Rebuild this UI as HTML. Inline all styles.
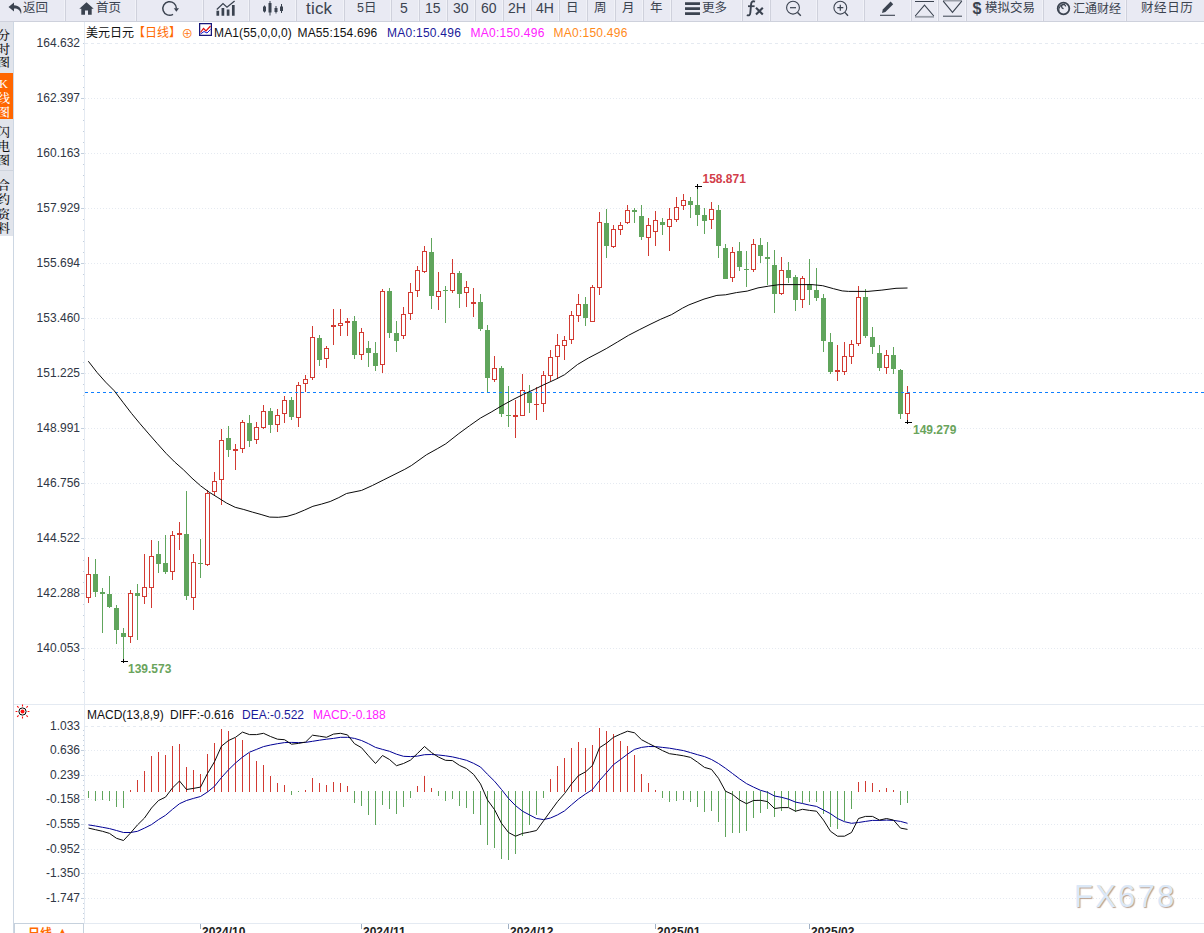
<!DOCTYPE html>
<html lang="zh-CN"><head><meta charset="utf-8"><title>美元日元 日线</title>
<style>
html,body{margin:0;padding:0;background:#fff;}
body{width:1204px;height:933px;position:relative;overflow:hidden;font-family:"Liberation Sans","Noto Sans CJK SC",sans-serif;}
#tb{position:absolute;left:0;top:0;width:1204px;height:21px;background:#e9eaf3;border-bottom:1px solid #ced1dc;overflow:hidden}
#tb .sp{position:absolute;top:0;width:1px;height:21px;background:#f1f2f8;border-right:1px solid #cfd1dc}
#tb .tt{position:absolute;top:0;line-height:17px;color:#3b4350;white-space:nowrap}
#tb .ic{position:absolute}
#sb{position:absolute;left:0;top:22px;width:13px;height:214px;background:#e1e4eb;overflow:hidden;font-family:"Liberation Serif","Noto Serif CJK SC",serif;font-size:12.5px;font-weight:500;line-height:13.4px;color:#111}
#sb div{position:absolute;left:-2.5px;width:12px;text-align:center;word-break:break-all}
#sb .on{background:#ff6600;color:#fff;left:0;width:13px;}
#sb .on span{display:block;margin-left:-2.5px;width:12px;text-align:center}
#lg{position:absolute;left:86px;top:25px;font-size:12px;line-height:16px;color:#111;white-space:nowrap}
#lg span{position:absolute;top:0}
#ml{position:absolute;left:87px;top:706.8px;font-size:12px;line-height:16px;color:#111;white-space:nowrap}
#ml span{position:absolute;top:0}
svg text.ax{font:12px "Liberation Sans",sans-serif;fill:#2f3644}
svg text.dt{font:bold 12px "Liberation Sans",sans-serif;fill:#222}
svg text.hl{font:bold 12px "Liberation Sans",sans-serif}
#wm{position:absolute;left:1074px;top:879px;font:31px "Liberation Sans",sans-serif;letter-spacing:2.2px;color:#dbe8f7;text-shadow:1px 1px 1px #b9a090}
#pd{position:absolute;left:14px;top:923px;width:70px;height:12px;border:1px solid #c6d1dd;box-sizing:border-box;color:#ff6a00;font-size:12px;font-weight:bold;line-height:19px;overflow:hidden;background:#fff}
#pd span{position:absolute;top:0.5px}
</style></head><body>
<svg id="ch" width="1204" height="933" viewBox="0 0 1204 933" style="position:absolute;left:0;top:0">
<line x1="85" x2="1204" y1="43.5" y2="43.5" stroke="#e5eaf1" stroke-width="1" stroke-dasharray="3 3"/>
<line x1="85" x2="1204" y1="98.5" y2="98.5" stroke="#e5eaf1" stroke-width="1" stroke-dasharray="1 2"/>
<line x1="85" x2="1204" y1="153.5" y2="153.5" stroke="#e5eaf1" stroke-width="1" stroke-dasharray="1 2"/>
<line x1="85" x2="1204" y1="208.5" y2="208.5" stroke="#e5eaf1" stroke-width="1" stroke-dasharray="1 2"/>
<line x1="85" x2="1204" y1="263.5" y2="263.5" stroke="#e5eaf1" stroke-width="1" stroke-dasharray="1 2"/>
<line x1="85" x2="1204" y1="318.5" y2="318.5" stroke="#e5eaf1" stroke-width="1" stroke-dasharray="1 2"/>
<line x1="85" x2="1204" y1="373.5" y2="373.5" stroke="#e5eaf1" stroke-width="1" stroke-dasharray="1 2"/>
<line x1="85" x2="1204" y1="428.5" y2="428.5" stroke="#e5eaf1" stroke-width="1" stroke-dasharray="1 2"/>
<line x1="85" x2="1204" y1="483.5" y2="483.5" stroke="#e5eaf1" stroke-width="1" stroke-dasharray="1 2"/>
<line x1="85" x2="1204" y1="538.5" y2="538.5" stroke="#e5eaf1" stroke-width="1" stroke-dasharray="1 2"/>
<line x1="85" x2="1204" y1="593.5" y2="593.5" stroke="#e5eaf1" stroke-width="1" stroke-dasharray="1 2"/>
<line x1="85" x2="1204" y1="648.5" y2="648.5" stroke="#e5eaf1" stroke-width="1" stroke-dasharray="1 2"/>
<line x1="85" x2="1204" y1="726.5" y2="726.5" stroke="#e5eaf1" stroke-width="1" stroke-dasharray="3 3"/>
<line x1="85" x2="1204" y1="750.5" y2="750.5" stroke="#e5eaf1" stroke-width="1" stroke-dasharray="1 2"/>
<line x1="85" x2="1204" y1="775.5" y2="775.5" stroke="#e5eaf1" stroke-width="1" stroke-dasharray="1 2"/>
<line x1="85" x2="1204" y1="799.5" y2="799.5" stroke="#e5eaf1" stroke-width="1" stroke-dasharray="1 2"/>
<line x1="85" x2="1204" y1="824.5" y2="824.5" stroke="#e5eaf1" stroke-width="1" stroke-dasharray="1 2"/>
<line x1="85" x2="1204" y1="849.5" y2="849.5" stroke="#e5eaf1" stroke-width="1" stroke-dasharray="1 2"/>
<line x1="85" x2="1204" y1="873.5" y2="873.5" stroke="#e5eaf1" stroke-width="1" stroke-dasharray="1 2"/>
<line x1="85" x2="1204" y1="898.5" y2="898.5" stroke="#e5eaf1" stroke-width="1" stroke-dasharray="1 2"/>
<rect x="13" y="22" width="1" height="911" fill="#cdd7e3"/>
<rect x="84" y="22" width="1" height="901" fill="#e4eaf2"/>
<rect x="14" y="704" width="1190" height="1" fill="#e4eaf2"/>
<rect x="14" y="923" width="1190" height="1" fill="#e4eaf2"/>
<path d="M83 43.5h1 M83 54.5h1 M83 65.5h1 M83 76.5h1 M83 87.5h1 M81 98.5h3 M83 109.5h1 M83 120.5h1 M83 131.5h1 M83 142.5h1 M81 153.5h3 M83 164.5h1 M83 175.5h1 M83 186.5h1 M83 197.5h1 M81 208.5h3 M83 219.5h1 M83 230.5h1 M83 241.5h1 M83 252.5h1 M81 263.5h3 M83 274.5h1 M83 285.5h1 M83 296.5h1 M83 307.5h1 M81 318.5h3 M83 329.5h1 M83 340.5h1 M83 351.5h1 M83 362.5h1 M81 373.5h3 M83 384.5h1 M83 395.5h1 M83 406.5h1 M83 417.5h1 M81 428.5h3 M83 439.5h1 M83 450.5h1 M83 461.5h1 M83 472.5h1 M81 483.5h3 M83 494.5h1 M83 505.5h1 M83 516.5h1 M83 527.5h1 M81 538.5h3 M83 549.5h1 M83 560.5h1 M83 571.5h1 M83 582.5h1 M81 593.5h3 M83 604.5h1 M83 615.5h1 M83 626.5h1 M83 637.5h1 M81 648.5h3 M83 659.5h1 M83 670.5h1 M83 681.5h1 M83 692.5h1" stroke="#c3cfdd" stroke-width="1" fill="none"/>
<path d="M81 750.5h3 M81 775.5h3 M81 799.5h3 M81 824.5h3 M81 849.5h3 M81 873.5h3 M81 898.5h3 M83 730.5h1 M83 735.5h1 M83 740.5h1 M83 745.5h1 M83 755.5h1 M83 760.5h1 M83 765.5h1 M83 770.5h1 M83 780.5h1 M83 785.5h1 M83 790.5h1 M83 795.5h1 M83 804.5h1 M83 809.5h1 M83 814.5h1 M83 819.5h1 M83 829.5h1 M83 834.5h1 M83 839.5h1 M83 844.5h1 M83 854.5h1 M83 859.5h1 M83 864.5h1 M83 868.5h1 M83 878.5h1 M83 883.5h1 M83 888.5h1 M83 893.5h1 M83 903.5h1 M83 908.5h1 M83 913.5h1 M83 918.5h1" stroke="#c3cfdd" stroke-width="1" fill="none"/>
<g shape-rendering="crispEdges"><rect x="88" y="557" width="1" height="17" fill="#d23a32"/><rect x="88" y="598" width="1" height="5" fill="#d23a32"/><rect x="86.5" y="574.5" width="4" height="23" fill="#fff" stroke="#d23a32" stroke-width="1"/><rect x="95" y="559" width="1" height="38" fill="#60a55c"/><rect x="93" y="574" width="5" height="18" fill="#60a55c"/><rect x="102" y="588" width="1" height="45" fill="#60a55c"/><rect x="100" y="592" width="5" height="2" fill="#60a55c"/><rect x="109" y="576" width="1" height="32" fill="#60a55c"/><rect x="107" y="594" width="5" height="13" fill="#60a55c"/><rect x="116" y="605" width="1" height="39" fill="#60a55c"/><rect x="114" y="608" width="5" height="22" fill="#60a55c"/><rect x="123" y="628" width="1" height="33" fill="#60a55c"/><rect x="121" y="633" width="5" height="4" fill="#60a55c"/><rect x="130" y="590" width="1" height="3" fill="#d23a32"/><rect x="130" y="637" width="1" height="6" fill="#d23a32"/><rect x="128.5" y="593.5" width="4" height="43" fill="#fff" stroke="#d23a32" stroke-width="1"/><rect x="137" y="584" width="1" height="56" fill="#60a55c"/><rect x="135" y="593" width="5" height="3" fill="#60a55c"/><rect x="144" y="554" width="1" height="33" fill="#d23a32"/><rect x="144" y="597" width="1" height="7" fill="#d23a32"/><rect x="142.5" y="587.5" width="4" height="9" fill="#fff" stroke="#d23a32" stroke-width="1"/><rect x="151" y="540" width="1" height="16" fill="#d23a32"/><rect x="151" y="588" width="1" height="20" fill="#d23a32"/><rect x="149.5" y="556.5" width="4" height="31" fill="#fff" stroke="#d23a32" stroke-width="1"/><rect x="158" y="541" width="1" height="32" fill="#60a55c"/><rect x="156" y="554" width="5" height="10" fill="#60a55c"/><rect x="165" y="535" width="1" height="39" fill="#60a55c"/><rect x="163" y="563" width="5" height="9" fill="#60a55c"/><rect x="172" y="531" width="1" height="4" fill="#d23a32"/><rect x="172" y="572" width="1" height="8" fill="#d23a32"/><rect x="170.5" y="535.5" width="4" height="36" fill="#fff" stroke="#d23a32" stroke-width="1"/><rect x="179" y="522" width="1" height="28" fill="#d23a32"/><rect x="177" y="533" width="5" height="2" fill="#d23a32"/><rect x="186" y="491" width="1" height="109" fill="#60a55c"/><rect x="184" y="534" width="5" height="62" fill="#60a55c"/><rect x="193" y="554" width="1" height="8" fill="#d23a32"/><rect x="193" y="598" width="1" height="12" fill="#d23a32"/><rect x="191.5" y="562.5" width="4" height="35" fill="#fff" stroke="#d23a32" stroke-width="1"/><rect x="200" y="539" width="1" height="39" fill="#60a55c"/><rect x="198" y="563" width="5" height="1" fill="#60a55c"/><rect x="207" y="490" width="1" height="3" fill="#d23a32"/><rect x="207" y="565" width="1" height="1" fill="#d23a32"/><rect x="205.5" y="493.5" width="4" height="71" fill="#fff" stroke="#d23a32" stroke-width="1"/><rect x="214" y="472" width="1" height="9" fill="#d23a32"/><rect x="214" y="492" width="1" height="3" fill="#d23a32"/><rect x="212.5" y="481.5" width="4" height="10" fill="#fff" stroke="#d23a32" stroke-width="1"/><rect x="221" y="429" width="1" height="11" fill="#d23a32"/><rect x="221" y="480" width="1" height="25" fill="#d23a32"/><rect x="219.5" y="440.5" width="4" height="39" fill="#fff" stroke="#d23a32" stroke-width="1"/><rect x="228" y="426" width="1" height="31" fill="#60a55c"/><rect x="226" y="438" width="5" height="12" fill="#60a55c"/><rect x="235" y="444" width="1" height="26" fill="#d23a32"/><rect x="233" y="449" width="5" height="2" fill="#d23a32"/><rect x="242" y="420" width="1" height="2" fill="#d23a32"/><rect x="242" y="449" width="1" height="4" fill="#d23a32"/><rect x="240.5" y="422.5" width="4" height="26" fill="#fff" stroke="#d23a32" stroke-width="1"/><rect x="249" y="415" width="1" height="32" fill="#60a55c"/><rect x="247" y="423" width="5" height="18" fill="#60a55c"/><rect x="256" y="422" width="1" height="5" fill="#d23a32"/><rect x="256" y="440" width="1" height="4" fill="#d23a32"/><rect x="254.5" y="427.5" width="4" height="12" fill="#fff" stroke="#d23a32" stroke-width="1"/><rect x="263" y="405" width="1" height="6" fill="#d23a32"/><rect x="263" y="428" width="1" height="1" fill="#d23a32"/><rect x="261.5" y="411.5" width="4" height="16" fill="#fff" stroke="#d23a32" stroke-width="1"/><rect x="270" y="408" width="1" height="25" fill="#60a55c"/><rect x="268" y="411" width="5" height="14" fill="#60a55c"/><rect x="277" y="409" width="1" height="6" fill="#d23a32"/><rect x="277" y="425" width="1" height="7" fill="#d23a32"/><rect x="275.5" y="415.5" width="4" height="9" fill="#fff" stroke="#d23a32" stroke-width="1"/><rect x="284" y="396" width="1" height="4" fill="#d23a32"/><rect x="284" y="414" width="1" height="9" fill="#d23a32"/><rect x="282.5" y="400.5" width="4" height="13" fill="#fff" stroke="#d23a32" stroke-width="1"/><rect x="291" y="397" width="1" height="23" fill="#60a55c"/><rect x="289" y="400" width="5" height="17" fill="#60a55c"/><rect x="298" y="382" width="1" height="3" fill="#d23a32"/><rect x="298" y="418" width="1" height="9" fill="#d23a32"/><rect x="296.5" y="385.5" width="4" height="32" fill="#fff" stroke="#d23a32" stroke-width="1"/><rect x="305" y="375" width="1" height="4" fill="#d23a32"/><rect x="305" y="384" width="1" height="8" fill="#d23a32"/><rect x="303.5" y="379.5" width="4" height="4" fill="#fff" stroke="#d23a32" stroke-width="1"/><rect x="312" y="326" width="1" height="11" fill="#d23a32"/><rect x="312" y="378" width="1" height="2" fill="#d23a32"/><rect x="310.5" y="337.5" width="4" height="40" fill="#fff" stroke="#d23a32" stroke-width="1"/><rect x="319" y="335" width="1" height="31" fill="#60a55c"/><rect x="317" y="338" width="5" height="22" fill="#60a55c"/><rect x="326" y="346" width="1" height="2" fill="#d23a32"/><rect x="326" y="359" width="1" height="9" fill="#d23a32"/><rect x="324.5" y="348.5" width="4" height="10" fill="#fff" stroke="#d23a32" stroke-width="1"/><rect x="333" y="309" width="1" height="36" fill="#d23a32"/><rect x="331" y="325" width="5" height="2" fill="#d23a32"/><rect x="340" y="309" width="1" height="14" fill="#d23a32"/><rect x="340" y="326" width="1" height="10" fill="#d23a32"/><rect x="338.5" y="323.5" width="4" height="2" fill="#fff" stroke="#d23a32" stroke-width="1"/><rect x="347" y="318" width="1" height="18" fill="#d23a32"/><rect x="345" y="321" width="5" height="2" fill="#d23a32"/><rect x="354" y="316" width="1" height="43" fill="#60a55c"/><rect x="352" y="321" width="5" height="34" fill="#60a55c"/><rect x="361" y="328" width="1" height="4" fill="#d23a32"/><rect x="361" y="355" width="1" height="5" fill="#d23a32"/><rect x="359.5" y="332.5" width="4" height="22" fill="#fff" stroke="#d23a32" stroke-width="1"/><rect x="368" y="341" width="1" height="26" fill="#60a55c"/><rect x="366" y="348" width="5" height="5" fill="#60a55c"/><rect x="375" y="342" width="1" height="29" fill="#60a55c"/><rect x="373" y="353" width="5" height="13" fill="#60a55c"/><rect x="382" y="289" width="1" height="2" fill="#d23a32"/><rect x="382" y="365" width="1" height="8" fill="#d23a32"/><rect x="380.5" y="291.5" width="4" height="73" fill="#fff" stroke="#d23a32" stroke-width="1"/><rect x="389" y="288" width="1" height="50" fill="#60a55c"/><rect x="387" y="291" width="5" height="42" fill="#60a55c"/><rect x="396" y="321" width="1" height="31" fill="#60a55c"/><rect x="394" y="333" width="5" height="8" fill="#60a55c"/><rect x="403" y="307" width="1" height="7" fill="#d23a32"/><rect x="403" y="336" width="1" height="3" fill="#d23a32"/><rect x="401.5" y="314.5" width="4" height="21" fill="#fff" stroke="#d23a32" stroke-width="1"/><rect x="410" y="283" width="1" height="9" fill="#d23a32"/><rect x="410" y="314" width="1" height="6" fill="#d23a32"/><rect x="408.5" y="292.5" width="4" height="21" fill="#fff" stroke="#d23a32" stroke-width="1"/><rect x="417" y="266" width="1" height="4" fill="#d23a32"/><rect x="417" y="291" width="1" height="6" fill="#d23a32"/><rect x="415.5" y="270.5" width="4" height="20" fill="#fff" stroke="#d23a32" stroke-width="1"/><rect x="424" y="246" width="1" height="5" fill="#d23a32"/><rect x="424" y="272" width="1" height="1" fill="#d23a32"/><rect x="422.5" y="251.5" width="4" height="20" fill="#fff" stroke="#d23a32" stroke-width="1"/><rect x="431" y="238" width="1" height="71" fill="#60a55c"/><rect x="429" y="252" width="5" height="44" fill="#60a55c"/><rect x="438" y="272" width="1" height="19" fill="#d23a32"/><rect x="438" y="297" width="1" height="13" fill="#d23a32"/><rect x="436.5" y="291.5" width="4" height="5" fill="#fff" stroke="#d23a32" stroke-width="1"/><rect x="445" y="286" width="1" height="37" fill="#60a55c"/><rect x="443" y="290" width="5" height="1" fill="#60a55c"/><rect x="452" y="259" width="1" height="14" fill="#d23a32"/><rect x="452" y="291" width="1" height="2" fill="#d23a32"/><rect x="450.5" y="273.5" width="4" height="17" fill="#fff" stroke="#d23a32" stroke-width="1"/><rect x="459" y="271" width="1" height="37" fill="#60a55c"/><rect x="457" y="273" width="5" height="21" fill="#60a55c"/><rect x="466" y="281" width="1" height="6" fill="#d23a32"/><rect x="466" y="293" width="1" height="14" fill="#d23a32"/><rect x="464.5" y="287.5" width="4" height="5" fill="#fff" stroke="#d23a32" stroke-width="1"/><rect x="473" y="288" width="1" height="29" fill="#d23a32"/><rect x="471" y="302" width="5" height="2" fill="#d23a32"/><rect x="480" y="294" width="1" height="37" fill="#60a55c"/><rect x="478" y="302" width="5" height="27" fill="#60a55c"/><rect x="487" y="325" width="1" height="67" fill="#60a55c"/><rect x="485" y="330" width="5" height="48" fill="#60a55c"/><rect x="494" y="356" width="1" height="12" fill="#d23a32"/><rect x="494" y="380" width="1" height="2" fill="#d23a32"/><rect x="492.5" y="368.5" width="4" height="11" fill="#fff" stroke="#d23a32" stroke-width="1"/><rect x="501" y="366" width="1" height="51" fill="#60a55c"/><rect x="499" y="368" width="5" height="46" fill="#60a55c"/><rect x="508" y="386" width="1" height="41" fill="#60a55c"/><rect x="506" y="415" width="5" height="1" fill="#60a55c"/><rect x="515" y="400" width="1" height="38" fill="#d23a32"/><rect x="513" y="415" width="5" height="2" fill="#d23a32"/><rect x="522" y="374" width="1" height="16" fill="#d23a32"/><rect x="520.5" y="390.5" width="4" height="25" fill="#fff" stroke="#d23a32" stroke-width="1"/><rect x="529" y="385" width="1" height="28" fill="#60a55c"/><rect x="527" y="392" width="5" height="11" fill="#60a55c"/><rect x="536" y="387" width="1" height="33" fill="#d23a32"/><rect x="534" y="404" width="5" height="1" fill="#d23a32"/><rect x="543" y="371" width="1" height="4" fill="#d23a32"/><rect x="543" y="404" width="1" height="8" fill="#d23a32"/><rect x="541.5" y="375.5" width="4" height="28" fill="#fff" stroke="#d23a32" stroke-width="1"/><rect x="550" y="350" width="1" height="7" fill="#d23a32"/><rect x="550" y="376" width="1" height="5" fill="#d23a32"/><rect x="548.5" y="357.5" width="4" height="18" fill="#fff" stroke="#d23a32" stroke-width="1"/><rect x="557" y="334" width="1" height="11" fill="#d23a32"/><rect x="557" y="357" width="1" height="22" fill="#d23a32"/><rect x="555.5" y="345.5" width="4" height="11" fill="#fff" stroke="#d23a32" stroke-width="1"/><rect x="564" y="336" width="1" height="4" fill="#d23a32"/><rect x="564" y="346" width="1" height="14" fill="#d23a32"/><rect x="562.5" y="340.5" width="4" height="5" fill="#fff" stroke="#d23a32" stroke-width="1"/><rect x="571" y="311" width="1" height="4" fill="#d23a32"/><rect x="571" y="340" width="1" height="4" fill="#d23a32"/><rect x="569.5" y="315.5" width="4" height="24" fill="#fff" stroke="#d23a32" stroke-width="1"/><rect x="578" y="294" width="1" height="10" fill="#d23a32"/><rect x="578" y="316" width="1" height="6" fill="#d23a32"/><rect x="576.5" y="304.5" width="4" height="11" fill="#fff" stroke="#d23a32" stroke-width="1"/><rect x="585" y="297" width="1" height="29" fill="#60a55c"/><rect x="583" y="304" width="5" height="14" fill="#60a55c"/><rect x="592" y="285" width="1" height="2" fill="#d23a32"/><rect x="590.5" y="287.5" width="4" height="34" fill="#fff" stroke="#d23a32" stroke-width="1"/><rect x="599" y="212" width="1" height="10" fill="#d23a32"/><rect x="599" y="288" width="1" height="7" fill="#d23a32"/><rect x="597.5" y="222.5" width="4" height="65" fill="#fff" stroke="#d23a32" stroke-width="1"/><rect x="606" y="209" width="1" height="49" fill="#60a55c"/><rect x="604" y="223" width="5" height="23" fill="#60a55c"/><rect x="613" y="225" width="1" height="4" fill="#d23a32"/><rect x="613" y="247" width="1" height="1" fill="#d23a32"/><rect x="611.5" y="229.5" width="4" height="17" fill="#fff" stroke="#d23a32" stroke-width="1"/><rect x="620" y="222" width="1" height="3" fill="#d23a32"/><rect x="620" y="230" width="1" height="5" fill="#d23a32"/><rect x="618.5" y="225.5" width="4" height="4" fill="#fff" stroke="#d23a32" stroke-width="1"/><rect x="627" y="205" width="1" height="5" fill="#d23a32"/><rect x="627" y="223" width="1" height="1" fill="#d23a32"/><rect x="625.5" y="210.5" width="4" height="12" fill="#fff" stroke="#d23a32" stroke-width="1"/><rect x="634" y="208" width="1" height="15" fill="#60a55c"/><rect x="632" y="210" width="5" height="2" fill="#60a55c"/><rect x="641" y="205" width="1" height="35" fill="#60a55c"/><rect x="639" y="216" width="5" height="21" fill="#60a55c"/><rect x="648" y="218" width="1" height="7" fill="#d23a32"/><rect x="648" y="238" width="1" height="18" fill="#d23a32"/><rect x="646.5" y="225.5" width="4" height="12" fill="#fff" stroke="#d23a32" stroke-width="1"/><rect x="655" y="211" width="1" height="9" fill="#d23a32"/><rect x="655" y="232" width="1" height="14" fill="#d23a32"/><rect x="653.5" y="220.5" width="4" height="11" fill="#fff" stroke="#d23a32" stroke-width="1"/><rect x="662" y="218" width="1" height="17" fill="#60a55c"/><rect x="660" y="222" width="5" height="3" fill="#60a55c"/><rect x="669" y="208" width="1" height="11" fill="#d23a32"/><rect x="669" y="227" width="1" height="24" fill="#d23a32"/><rect x="667.5" y="219.5" width="4" height="7" fill="#fff" stroke="#d23a32" stroke-width="1"/><rect x="676" y="197" width="1" height="10" fill="#d23a32"/><rect x="676" y="220" width="1" height="2" fill="#d23a32"/><rect x="674.5" y="207.5" width="4" height="12" fill="#fff" stroke="#d23a32" stroke-width="1"/><rect x="683" y="194" width="1" height="6" fill="#d23a32"/><rect x="683" y="206" width="1" height="4" fill="#d23a32"/><rect x="681.5" y="200.5" width="4" height="5" fill="#fff" stroke="#d23a32" stroke-width="1"/><rect x="690" y="197" width="1" height="21" fill="#60a55c"/><rect x="688" y="201" width="5" height="4" fill="#60a55c"/><rect x="697" y="186" width="1" height="40" fill="#60a55c"/><rect x="695" y="205" width="5" height="10" fill="#60a55c"/><rect x="704" y="208" width="1" height="26" fill="#60a55c"/><rect x="702" y="215" width="5" height="6" fill="#60a55c"/><rect x="711" y="202" width="1" height="7" fill="#d23a32"/><rect x="711" y="220" width="1" height="9" fill="#d23a32"/><rect x="709.5" y="209.5" width="4" height="10" fill="#fff" stroke="#d23a32" stroke-width="1"/><rect x="718" y="205" width="1" height="53" fill="#60a55c"/><rect x="716" y="210" width="5" height="36" fill="#60a55c"/><rect x="725" y="244" width="1" height="35" fill="#60a55c"/><rect x="723" y="248" width="5" height="31" fill="#60a55c"/><rect x="732" y="247" width="1" height="5" fill="#d23a32"/><rect x="732" y="278" width="1" height="4" fill="#d23a32"/><rect x="730.5" y="252.5" width="4" height="25" fill="#fff" stroke="#d23a32" stroke-width="1"/><rect x="739" y="242" width="1" height="29" fill="#60a55c"/><rect x="737" y="251" width="5" height="16" fill="#60a55c"/><rect x="746" y="251" width="1" height="36" fill="#60a55c"/><rect x="744" y="269" width="5" height="1" fill="#60a55c"/><rect x="753" y="239" width="1" height="5" fill="#d23a32"/><rect x="753" y="270" width="1" height="2" fill="#d23a32"/><rect x="751.5" y="244.5" width="4" height="25" fill="#fff" stroke="#d23a32" stroke-width="1"/><rect x="760" y="238" width="1" height="25" fill="#60a55c"/><rect x="758" y="245" width="5" height="11" fill="#60a55c"/><rect x="767" y="242" width="1" height="43" fill="#60a55c"/><rect x="765" y="257" width="5" height="2" fill="#60a55c"/><rect x="774" y="250" width="1" height="63" fill="#60a55c"/><rect x="772" y="265" width="5" height="29" fill="#60a55c"/><rect x="781" y="257" width="1" height="13" fill="#d23a32"/><rect x="781" y="294" width="1" height="1" fill="#d23a32"/><rect x="779.5" y="270.5" width="4" height="23" fill="#fff" stroke="#d23a32" stroke-width="1"/><rect x="788" y="262" width="1" height="21" fill="#60a55c"/><rect x="786" y="270" width="5" height="8" fill="#60a55c"/><rect x="795" y="275" width="1" height="36" fill="#60a55c"/><rect x="793" y="277" width="5" height="23" fill="#60a55c"/><rect x="802" y="276" width="1" height="2" fill="#d23a32"/><rect x="802" y="300" width="1" height="8" fill="#d23a32"/><rect x="800.5" y="278.5" width="4" height="21" fill="#fff" stroke="#d23a32" stroke-width="1"/><rect x="809" y="259" width="1" height="46" fill="#60a55c"/><rect x="807" y="284" width="5" height="6" fill="#60a55c"/><rect x="816" y="268" width="1" height="33" fill="#60a55c"/><rect x="814" y="290" width="5" height="8" fill="#60a55c"/><rect x="823" y="294" width="1" height="58" fill="#60a55c"/><rect x="821" y="298" width="5" height="43" fill="#60a55c"/><rect x="830" y="333" width="1" height="41" fill="#60a55c"/><rect x="828" y="342" width="5" height="30" fill="#60a55c"/><rect x="837" y="345" width="1" height="36" fill="#d23a32"/><rect x="835" y="370" width="5" height="2" fill="#d23a32"/><rect x="844" y="342" width="1" height="14" fill="#d23a32"/><rect x="844" y="372" width="1" height="3" fill="#d23a32"/><rect x="842.5" y="356.5" width="4" height="15" fill="#fff" stroke="#d23a32" stroke-width="1"/><rect x="851" y="340" width="1" height="4" fill="#d23a32"/><rect x="851" y="357" width="1" height="7" fill="#d23a32"/><rect x="849.5" y="344.5" width="4" height="12" fill="#fff" stroke="#d23a32" stroke-width="1"/><rect x="858" y="286" width="1" height="11" fill="#d23a32"/><rect x="858" y="344" width="1" height="2" fill="#d23a32"/><rect x="856.5" y="297.5" width="4" height="46" fill="#fff" stroke="#d23a32" stroke-width="1"/><rect x="865" y="289" width="1" height="49" fill="#60a55c"/><rect x="863" y="297" width="5" height="39" fill="#60a55c"/><rect x="872" y="327" width="1" height="27" fill="#60a55c"/><rect x="870" y="337" width="5" height="10" fill="#60a55c"/><rect x="879" y="345" width="1" height="26" fill="#60a55c"/><rect x="877" y="353" width="5" height="15" fill="#60a55c"/><rect x="886" y="350" width="1" height="5" fill="#d23a32"/><rect x="886" y="368" width="1" height="6" fill="#d23a32"/><rect x="884.5" y="355.5" width="4" height="12" fill="#fff" stroke="#d23a32" stroke-width="1"/><rect x="893" y="347" width="1" height="27" fill="#60a55c"/><rect x="891" y="355" width="5" height="14" fill="#60a55c"/><rect x="900" y="369" width="1" height="50" fill="#60a55c"/><rect x="898" y="370" width="5" height="44" fill="#60a55c"/><rect x="907" y="386" width="1" height="7" fill="#d23a32"/><rect x="907" y="414" width="1" height="8" fill="#d23a32"/><rect x="905.5" y="393.5" width="4" height="20" fill="#fff" stroke="#d23a32" stroke-width="1"/></g>
<line x1="85" x2="1204" y1="392.5" y2="392.5" stroke="#0f7fff" stroke-width="1" stroke-dasharray="3 3" shape-rendering="crispEdges"/>
<polyline points="88.3,361.2 97.0,372.4 105.6,382.1 114.2,390.7 122.9,402.2 131.5,413.4 140.1,423.8 148.8,433.9 157.4,443.7 166.1,453.4 174.7,462.0 183.3,469.6 192.0,478.2 200.6,485.8 209.2,492.2 217.9,497.6 226.5,503.0 235.2,507.3 243.8,509.5 252.4,512.1 261.1,514.5 269.7,517.1 278.3,517.3 287.0,516.4 295.6,513.8 304.3,510.2 312.9,506.3 321.5,504.1 330.2,501.5 338.8,497.6 346.5,493.5 361.6,490.4 372.4,485.5 383.2,480.1 394.0,474.7 404.8,469.3 411.3,465.6 426.4,454.8 437.2,448.8 445.8,443.8 458.8,433.6 469.6,425.7 480.4,418.1 491.2,412.1 502.0,405.6 512.8,399.7 523.5,394.3 534.3,389.4 543.0,385.1 555.9,379.2 564.6,374.7 577.5,364.5 588.3,358.1 600.0,352.0 606.8,348.3 617.6,341.9 628.4,335.4 639.2,329.8 650.0,324.4 660.8,319.2 671.6,314.6 682.4,308.2 688.9,304.9 704.0,299.1 716.9,295.4 725.6,294.8 736.4,292.6 747.2,291.1 758.0,287.9 768.8,286.1 779.5,284.6 811.9,284.6 822.7,285.7 833.5,288.7 842.2,290.9 848.5,291.4 868.0,291.4 881.9,290.1 896.0,288.3 907.5,288.0" fill="none" stroke="#0a0a0a" stroke-width="1" stroke-linejoin="round"/>
<path d="M695 186.5h7M697.5 184v5" stroke="#000" stroke-width="1" fill="none" shape-rendering="crispEdges"/>
<path d="M905 422.5h7M907.5 420v4" stroke="#000" stroke-width="1" fill="none" shape-rendering="crispEdges"/>
<path d="M121 661.5h7M123.5 659v4" stroke="#000" stroke-width="1" fill="none" shape-rendering="crispEdges"/>
<g shape-rendering="crispEdges"><rect x="88" y="791" width="1" height="7" fill="#60a55c"/><rect x="95" y="791" width="1" height="10" fill="#60a55c"/><rect x="102" y="791" width="1" height="9" fill="#60a55c"/><rect x="109" y="791" width="1" height="10" fill="#60a55c"/><rect x="116" y="791" width="1" height="16" fill="#60a55c"/><rect x="123" y="791" width="1" height="17" fill="#60a55c"/><rect x="130" y="790" width="1" height="2" fill="#d23a32"/><rect x="137" y="780" width="1" height="12" fill="#d23a32"/><rect x="144" y="771" width="1" height="21" fill="#d23a32"/><rect x="151" y="756" width="1" height="36" fill="#d23a32"/><rect x="158" y="752" width="1" height="40" fill="#d23a32"/><rect x="165" y="755" width="1" height="37" fill="#d23a32"/><rect x="172" y="746" width="1" height="46" fill="#d23a32"/><rect x="179" y="744" width="1" height="48" fill="#d23a32"/><rect x="186" y="767" width="1" height="25" fill="#d23a32"/><rect x="193" y="770" width="1" height="22" fill="#d23a32"/><rect x="200" y="774" width="1" height="18" fill="#d23a32"/><rect x="207" y="754" width="1" height="38" fill="#d23a32"/><rect x="214" y="743" width="1" height="49" fill="#d23a32"/><rect x="221" y="729" width="1" height="63" fill="#d23a32"/><rect x="228" y="731" width="1" height="61" fill="#d23a32"/><rect x="235" y="738" width="1" height="54" fill="#d23a32"/><rect x="242" y="740" width="1" height="52" fill="#d23a32"/><rect x="249" y="753" width="1" height="39" fill="#d23a32"/><rect x="256" y="761" width="1" height="31" fill="#d23a32"/><rect x="263" y="765" width="1" height="27" fill="#d23a32"/><rect x="270" y="776" width="1" height="16" fill="#d23a32"/><rect x="277" y="783" width="1" height="9" fill="#d23a32"/><rect x="284" y="785" width="1" height="7" fill="#d23a32"/><rect x="291" y="791" width="1" height="4" fill="#60a55c"/><rect x="298" y="791" width="1" height="1" fill="#60a55c"/><rect x="305" y="790" width="1" height="2" fill="#d23a32"/><rect x="312" y="778" width="1" height="14" fill="#d23a32"/><rect x="319" y="783" width="1" height="9" fill="#d23a32"/><rect x="326" y="785" width="1" height="7" fill="#d23a32"/><rect x="333" y="782" width="1" height="10" fill="#d23a32"/><rect x="340" y="783" width="1" height="9" fill="#d23a32"/><rect x="347" y="786" width="1" height="6" fill="#d23a32"/><rect x="354" y="791" width="1" height="12" fill="#60a55c"/><rect x="361" y="791" width="1" height="15" fill="#60a55c"/><rect x="368" y="791" width="1" height="24" fill="#60a55c"/><rect x="375" y="791" width="1" height="34" fill="#60a55c"/><rect x="382" y="791" width="1" height="14" fill="#60a55c"/><rect x="389" y="791" width="1" height="18" fill="#60a55c"/><rect x="396" y="791" width="1" height="23" fill="#60a55c"/><rect x="403" y="791" width="1" height="16" fill="#60a55c"/><rect x="410" y="791" width="1" height="7" fill="#60a55c"/><rect x="417" y="786" width="1" height="6" fill="#d23a32"/><rect x="424" y="776" width="1" height="16" fill="#d23a32"/><rect x="431" y="788" width="1" height="4" fill="#d23a32"/><rect x="438" y="791" width="1" height="5" fill="#60a55c"/><rect x="445" y="791" width="1" height="10" fill="#60a55c"/><rect x="452" y="791" width="1" height="8" fill="#60a55c"/><rect x="459" y="791" width="1" height="15" fill="#60a55c"/><rect x="466" y="791" width="1" height="17" fill="#60a55c"/><rect x="473" y="791" width="1" height="23" fill="#60a55c"/><rect x="480" y="791" width="1" height="34" fill="#60a55c"/><rect x="487" y="791" width="1" height="54" fill="#60a55c"/><rect x="494" y="791" width="1" height="57" fill="#60a55c"/><rect x="501" y="791" width="1" height="68" fill="#60a55c"/><rect x="508" y="791" width="1" height="69" fill="#60a55c"/><rect x="515" y="791" width="1" height="63" fill="#60a55c"/><rect x="522" y="791" width="1" height="45" fill="#60a55c"/><rect x="529" y="791" width="1" height="34" fill="#60a55c"/><rect x="536" y="791" width="1" height="24" fill="#60a55c"/><rect x="543" y="791" width="1" height="7" fill="#60a55c"/><rect x="550" y="779" width="1" height="13" fill="#d23a32"/><rect x="557" y="766" width="1" height="26" fill="#d23a32"/><rect x="564" y="758" width="1" height="34" fill="#d23a32"/><rect x="571" y="748" width="1" height="44" fill="#d23a32"/><rect x="578" y="742" width="1" height="50" fill="#d23a32"/><rect x="585" y="748" width="1" height="44" fill="#d23a32"/><rect x="592" y="745" width="1" height="47" fill="#d23a32"/><rect x="599" y="728" width="1" height="64" fill="#d23a32"/><rect x="606" y="731" width="1" height="61" fill="#d23a32"/><rect x="613" y="734" width="1" height="58" fill="#d23a32"/><rect x="620" y="741" width="1" height="51" fill="#d23a32"/><rect x="627" y="746" width="1" height="46" fill="#d23a32"/><rect x="634" y="755" width="1" height="37" fill="#d23a32"/><rect x="641" y="774" width="1" height="18" fill="#d23a32"/><rect x="648" y="783" width="1" height="9" fill="#d23a32"/><rect x="655" y="790" width="1" height="2" fill="#d23a32"/><rect x="662" y="791" width="1" height="7" fill="#60a55c"/><rect x="669" y="791" width="1" height="11" fill="#60a55c"/><rect x="676" y="791" width="1" height="10" fill="#60a55c"/><rect x="683" y="791" width="1" height="9" fill="#60a55c"/><rect x="690" y="791" width="1" height="11" fill="#60a55c"/><rect x="697" y="791" width="1" height="16" fill="#60a55c"/><rect x="704" y="791" width="1" height="21" fill="#60a55c"/><rect x="711" y="791" width="1" height="20" fill="#60a55c"/><rect x="718" y="791" width="1" height="31" fill="#60a55c"/><rect x="725" y="791" width="1" height="46" fill="#60a55c"/><rect x="732" y="791" width="1" height="42" fill="#60a55c"/><rect x="739" y="791" width="1" height="42" fill="#60a55c"/><rect x="746" y="791" width="1" height="40" fill="#60a55c"/><rect x="753" y="791" width="1" height="27" fill="#60a55c"/><rect x="760" y="791" width="1" height="22" fill="#60a55c"/><rect x="767" y="791" width="1" height="18" fill="#60a55c"/><rect x="774" y="791" width="1" height="26" fill="#60a55c"/><rect x="781" y="791" width="1" height="20" fill="#60a55c"/><rect x="788" y="791" width="1" height="16" fill="#60a55c"/><rect x="795" y="791" width="1" height="21" fill="#60a55c"/><rect x="802" y="791" width="1" height="12" fill="#60a55c"/><rect x="809" y="791" width="1" height="11" fill="#60a55c"/><rect x="816" y="791" width="1" height="11" fill="#60a55c"/><rect x="823" y="791" width="1" height="23" fill="#60a55c"/><rect x="830" y="791" width="1" height="36" fill="#60a55c"/><rect x="837" y="791" width="1" height="38" fill="#60a55c"/><rect x="844" y="791" width="1" height="30" fill="#60a55c"/><rect x="851" y="791" width="1" height="18" fill="#60a55c"/><rect x="858" y="782" width="1" height="10" fill="#d23a32"/><rect x="865" y="781" width="1" height="11" fill="#d23a32"/><rect x="872" y="783" width="1" height="9" fill="#d23a32"/><rect x="879" y="790" width="1" height="2" fill="#d23a32"/><rect x="886" y="788" width="1" height="4" fill="#d23a32"/><rect x="893" y="790" width="1" height="2" fill="#d23a32"/><rect x="900" y="791" width="1" height="14" fill="#60a55c"/><rect x="907" y="791" width="1" height="12" fill="#60a55c"/></g>
<polyline points="88.5,824.9 95.5,826.0 102.5,827.3 109.5,828.6 116.5,830.5 123.5,832.5 130.5,832.5 137.5,831.3 144.5,828.1 151.5,824.6 158.5,819.6 165.5,815.3 172.5,809.3 179.5,803.7 186.5,800.5 193.5,798.4 200.5,796.5 207.5,792.0 214.5,786.3 221.5,777.5 228.5,769.8 235.5,763.0 242.5,757.1 249.5,752.2 256.5,749.4 263.5,746.6 270.5,745.0 277.5,743.7 284.5,742.6 291.5,742.4 298.5,742.6 305.5,742.4 312.5,741.3 319.5,740.2 326.5,739.2 333.5,738.4 340.5,737.3 347.5,737.3 354.5,738.4 361.5,740.5 368.5,743.7 375.5,747.4 382.5,749.4 389.5,751.3 396.5,754.2 403.5,756.3 410.5,756.6 417.5,756.1 424.5,754.7 431.5,754.5 438.5,755.0 445.5,755.8 452.5,756.9 459.5,758.5 466.5,760.3 473.5,763.3 480.5,767.0 487.5,774.3 494.5,781.2 501.5,789.5 508.5,798.4 515.5,805.6 522.5,811.2 529.5,814.9 536.5,818.5 543.5,819.6 550.5,818.0 557.5,814.9 564.5,810.9 571.5,804.8 578.5,798.9 585.5,794.0 592.5,789.5 599.5,780.5 606.5,772.7 613.5,764.6 620.5,759.5 627.5,754.2 634.5,749.4 641.5,747.4 648.5,746.5 655.5,746.6 662.5,747.4 669.5,748.2 676.5,749.4 683.5,750.6 690.5,752.6 697.5,754.7 704.5,756.6 711.5,759.5 718.5,763.5 725.5,768.3 732.5,773.5 739.5,778.8 746.5,783.6 753.5,787.1 760.5,790.3 767.5,792.3 774.5,796.0 781.5,797.3 788.5,799.2 795.5,802.1 802.5,803.5 809.5,805.1 816.5,806.4 823.5,810.0 830.5,813.7 837.5,818.5 844.5,821.7 851.5,823.3 858.5,822.5 865.5,821.4 872.5,820.4 879.5,820.4 886.5,820.1 893.5,820.4 900.5,821.4 907.5,823.3" fill="none" stroke="#000094" stroke-width="1" stroke-linejoin="round"/>
<polyline points="88.5,828.1 95.5,829.7 102.5,831.3 109.5,833.4 116.5,838.3 123.5,840.5 130.5,833.0 137.5,824.9 144.5,818.0 151.5,808.0 158.5,800.5 165.5,797.1 172.5,787.9 179.5,781.0 186.5,789.5 193.5,788.4 200.5,787.1 207.5,773.5 214.5,761.7 221.5,746.1 228.5,740.5 235.5,737.3 242.5,732.1 249.5,734.6 256.5,734.6 263.5,733.3 270.5,736.5 277.5,739.2 284.5,739.7 291.5,744.2 298.5,743.4 305.5,742.1 312.5,735.2 319.5,736.2 326.5,737.3 333.5,734.1 340.5,733.3 347.5,734.9 354.5,743.7 361.5,747.7 368.5,755.8 375.5,763.5 382.5,755.5 389.5,759.5 396.5,765.7 403.5,763.5 410.5,760.1 417.5,753.4 424.5,746.5 431.5,752.6 438.5,757.1 445.5,760.3 452.5,760.6 459.5,765.4 466.5,768.6 473.5,774.3 480.5,783.9 487.5,800.0 494.5,809.6 501.5,823.3 508.5,832.5 515.5,836.2 522.5,833.4 529.5,832.1 536.5,830.5 543.5,820.9 550.5,811.2 557.5,801.6 564.5,793.6 571.5,783.9 578.5,775.6 585.5,771.9 592.5,765.4 599.5,747.7 606.5,743.2 613.5,737.3 620.5,734.1 627.5,731.2 634.5,732.8 641.5,739.7 648.5,743.4 655.5,746.9 662.5,750.6 669.5,753.7 676.5,754.7 683.5,755.8 690.5,757.4 697.5,762.2 704.5,767.4 711.5,769.4 718.5,778.3 725.5,791.2 732.5,794.4 739.5,800.0 746.5,803.7 753.5,800.5 760.5,800.3 767.5,801.6 774.5,808.5 781.5,807.6 788.5,807.6 795.5,811.2 802.5,809.3 809.5,810.4 816.5,811.2 823.5,820.1 830.5,831.3 837.5,836.2 844.5,836.2 851.5,832.5 858.5,818.5 865.5,816.4 872.5,816.4 879.5,820.1 886.5,818.5 893.5,820.1 900.5,828.1 907.5,829.4" fill="none" stroke="#0a0a0a" stroke-width="1" stroke-linejoin="round"/>
<text x="80" y="46.9" text-anchor="end" class="ax">164.632</text><text x="80" y="101.9" text-anchor="end" class="ax">162.397</text><text x="80" y="156.9" text-anchor="end" class="ax">160.163</text><text x="80" y="211.9" text-anchor="end" class="ax">157.929</text><text x="80" y="266.9" text-anchor="end" class="ax">155.694</text><text x="80" y="321.9" text-anchor="end" class="ax">153.460</text><text x="80" y="376.9" text-anchor="end" class="ax">151.225</text><text x="80" y="431.9" text-anchor="end" class="ax">148.991</text><text x="80" y="486.9" text-anchor="end" class="ax">146.756</text><text x="80" y="541.9" text-anchor="end" class="ax">144.522</text><text x="80" y="596.9" text-anchor="end" class="ax">142.288</text><text x="80" y="651.9" text-anchor="end" class="ax">140.053</text><text x="80" y="729.9" text-anchor="end" class="ax">1.033</text><text x="80" y="753.9" text-anchor="end" class="ax">0.636</text><text x="80" y="778.9" text-anchor="end" class="ax">0.239</text><text x="80" y="802.9" text-anchor="end" class="ax">-0.158</text><text x="80" y="827.9" text-anchor="end" class="ax">-0.555</text><text x="80" y="852.9" text-anchor="end" class="ax">-0.952</text><text x="80" y="876.9" text-anchor="end" class="ax">-1.350</text><text x="80" y="901.9" text-anchor="end" class="ax">-1.747</text><text x="202" y="935.5" class="dt">2024/10</text><rect x="200" y="924" width="1" height="5" fill="#9fb0c4"/><text x="363" y="935.5" class="dt">2024/11</text><rect x="361" y="924" width="1" height="5" fill="#9fb0c4"/><text x="510" y="935.5" class="dt">2024/12</text><rect x="508" y="924" width="1" height="5" fill="#9fb0c4"/><text x="657" y="935.5" class="dt">2025/01</text><rect x="655" y="924" width="1" height="5" fill="#9fb0c4"/><text x="811" y="935.5" class="dt">2025/02</text><rect x="809" y="924" width="1" height="5" fill="#9fb0c4"/><text x="702.5" y="183.2" class="hl" fill="#d2404a">158.871</text><text x="913" y="433.8" class="hl" fill="#6aa45c">149.279</text><text x="128" y="672.6" class="hl" fill="#6aa45c">139.573</text>
</svg>
<div id="tb"><i class="sp" style="left:64px"></i><i class="sp" style="left:135px"></i><i class="sp" style="left:202px"></i><i class="sp" style="left:248px"></i><i class="sp" style="left:295px"></i><i class="sp" style="left:343px"></i><i class="sp" style="left:390px"></i><i class="sp" style="left:418px"></i><i class="sp" style="left:446px"></i><i class="sp" style="left:474px"></i><i class="sp" style="left:502px"></i><i class="sp" style="left:530px"></i><i class="sp" style="left:558px"></i><i class="sp" style="left:586px"></i><i class="sp" style="left:614px"></i><i class="sp" style="left:642px"></i><i class="sp" style="left:670px"></i><i class="sp" style="left:741px"></i><i class="sp" style="left:769px"></i><i class="sp" style="left:816px"></i><i class="sp" style="left:863px"></i><i class="sp" style="left:910px"></i><i class="sp" style="left:937px"></i><i class="sp" style="left:965px"></i><i class="sp" style="left:1042px"></i><i class="sp" style="left:1125px"></i><svg class="ic" style="left:8px;top:2px" width="15" height="13" viewBox="0 0 15 13"><path d="M6 0.5 L0.5 5 L6 9.5 V6.6 C9.5 6.4 12 8 13 12.3 C14.6 7 11 3.3 6 3.2 Z" fill="#3b4350"/></svg><svg class="ic" style="left:79px;top:2px" width="15" height="13" viewBox="0 0 15 13"><path d="M7.5 0.3 L0.3 6.8 H2.3 V12.8 H6 V8.6 H9 V12.8 H12.7 V6.8 H14.7 Z" fill="#3b4350"/></svg><svg class="ic" style="left:161px;top:0px" width="20" height="18" viewBox="0 0 20 18"><path d="M12 14.4 A6.8 6.8 0 1 1 15.4 8.5" fill="none" stroke="#3b4350" stroke-width="1.5"/><path d="M12.8 8.3 H18 L15.4 11.8 Z" fill="#3b4350"/></svg><svg class="ic" style="left:216px;top:0px" width="21" height="17" viewBox="0 0 21 17"><path d="M1.8 15.8V10.8M6.9 15.8V7.9M12.1 15.8V9.5M17.3 15.8V4.9" stroke="#3b4350" stroke-width="2.7" fill="none"/><path d="M0.8 9.5 L7 3.6 L11 7.2 L18.6 1" stroke="#3b4350" stroke-width="1.3" fill="none"/></svg><svg class="ic" style="left:262px;top:0px" width="22" height="17" viewBox="0 0 22 17"><path d="M2.5 5.5V12.5M8 1V15.5M14 6V13.5M19.5 4V13" stroke="#3b4350" stroke-width="1" fill="none"/><path d="M2.5 6.5V11.5M8 3V12.5M14 8V12M19.5 6.5V11" stroke="#3b4350" stroke-width="3" fill="none"/></svg><svg class="ic" style="left:685px;top:1px" width="15" height="15" viewBox="0 0 15 15"><path d="M0.5 2.6H14.5M0.5 7.6H14.5M0.5 12.6H14.5" stroke="#3b4350" stroke-width="2.6" stroke-linecap="round" fill="none"/></svg><svg class="ic" style="left:746px;top:0px" width="19" height="17" viewBox="0 0 19 17"><path d="M9 1.7 C6.4 0.6 5.3 2 5.1 4.2 L4.3 13 C4.1 15.2 3 15.8 0.8 15.1" stroke="#3b4350" stroke-width="1.9" fill="none"/><path d="M2 6.2H8.6" stroke="#3b4350" stroke-width="1.8"/><path d="M10 7.8L16.8 14.6M16.8 7.8L10 14.6" stroke="#3b4350" stroke-width="2.1"/></svg><svg class="ic" style="left:784px;top:0px" width="19" height="17" viewBox="0 0 19 17"><circle cx="9" cy="7.7" r="6.4" fill="none" stroke="#3b4350" stroke-width="1.1"/><path d="M6 7.7H12" stroke="#3b4350" stroke-width="1.2"/><path d="M13.6 12.4L16.8 15.8" stroke="#3b4350" stroke-width="1.4"/></svg><svg class="ic" style="left:831px;top:0px" width="19" height="17" viewBox="0 0 19 17"><circle cx="9.3" cy="7.7" r="6.4" fill="none" stroke="#3b4350" stroke-width="1.1"/><path d="M6.3 7.7H12.3M9.3 4.7V10.7" stroke="#3b4350" stroke-width="1.2"/><path d="M13.9 12.4L17 15.8" stroke="#3b4350" stroke-width="1.4"/></svg><svg class="ic" style="left:879px;top:0px" width="18" height="17" viewBox="0 0 18 17"><path d="M3 13 L3.8 9.4 L11.6 1.6 L14.2 4.2 L6.4 12 Z" fill="#3b4350"/><path d="M1 15.3H16" stroke="#3b4350" stroke-width="1.1"/></svg><svg class="ic" style="left:913px;top:0px" width="23" height="19" viewBox="0 0 23 19"><path d="M2 1.5H21" stroke="#3b4350" stroke-width="1"/><path d="M2 16.8H21" stroke="#9a9ea8" stroke-width="1.8"/><path d="M2.2 16 L11.5 5.2 L20.8 16" stroke="#3b4350" stroke-width="1.1" fill="none"/></svg><svg class="ic" style="left:941px;top:0px" width="23" height="19" viewBox="0 0 23 19"><path d="M2 16.2H21" stroke="#3b4350" stroke-width="1"/><path d="M2 0.6H21" stroke="#9a9ea8" stroke-width="1.8"/><path d="M2.2 1.2 L11.5 12.4 L20.8 1.2" stroke="#3b4350" stroke-width="1.1" fill="none"/></svg><svg class="ic" style="left:1056px;top:1px" width="15" height="15" viewBox="0 0 15 15"><circle cx="7.5" cy="7.5" r="5.8" fill="none" stroke="#3b4350" stroke-width="1.8"/><path d="M7.6 7.6 A2 2 0 1 1 9.6 5.6 M3 10.5 A6 6 0 0 1 9 3" stroke="#3b4350" stroke-width="1.2" fill="none"/></svg><span class="tt" style="left:23px;font-size:12.5px;">返回</span><span class="tt" style="left:96px;font-size:12.5px;">首页</span><span class="tt" style="left:306px;font-size:17px;top:-0.5px;letter-spacing:0.2px">tick</span><span class="tt" style="left:357px;font-size:12.5px;">5日</span><span class="tt" style="left:400px;font-size:14px;top:0px">5</span><span class="tt" style="left:425px;font-size:14px;top:0px">15</span><span class="tt" style="left:453px;font-size:14px;top:0px">30</span><span class="tt" style="left:481px;font-size:14px;top:0px">60</span><span class="tt" style="left:508px;font-size:14px;top:0px">2H</span><span class="tt" style="left:536px;font-size:14px;top:0px">4H</span><span class="tt" style="left:566px;font-size:12.5px;">日</span><span class="tt" style="left:594px;font-size:12.5px;">周</span><span class="tt" style="left:622px;font-size:12.5px;">月</span><span class="tt" style="left:650px;font-size:12.5px;">年</span><span class="tt" style="left:702px;font-size:12.5px;">更多</span><span class="tt" style="left:972.5px;font-size:16px;font-weight:bold;top:-0.5px">$</span><span class="tt" style="left:985px;font-size:12.5px;">模拟交易</span><span class="tt" style="left:1073px;font-size:12px;top:1px">汇通财经</span><span class="tt" style="left:1141px;font-size:12.5px;letter-spacing:0.6px">财经日历</span></div>
<div id="sb">
<div style="top:7.8px;line-height:13.8px">分时图</div>
<div class="on" style="top:51px;height:46px;padding-top:6px;box-sizing:border-box"><span style="margin-top:-1px">K</span><span style="margin-top:2px">线</span><span style="margin-top:0px">图</span></div>
<div style="top:105.3px;line-height:13.9px">闪电图</div>
<div style="top:157px;line-height:14.3px">合约资料</div>
<i style="position:absolute;left:0;top:148px;width:13px;height:1px;background:#cfd4dd"></i>
</div>
<div id="lg"><span style="left:0">美元日元</span><span style="left:47px;color:#ff6a00">【日线】</span><span style="left:95.5px;top:1px;color:#ff7a10;font-size:11.5px">⊕</span>
<svg style="position:absolute;left:112.5px;top:-1.6px" width="13" height="13" viewBox="0 0 13 13"><rect x="0.6" y="0.6" width="11.8" height="11.8" fill="#fff" stroke="#16167a" stroke-width="1.3"/><path d="M1.5 9.5L4.5 5.5L7 8L11.5 3" stroke="#e01010" stroke-width="1.2" fill="none"/><path d="M1.5 11L5 8.5L8 10L11.5 6.5" stroke="#1a1ad0" stroke-width="1" fill="none"/></svg>
<span style="left:128px;letter-spacing:.15px">MA1(55,0,0,0)</span><span style="left:211.5px;letter-spacing:.15px">MA55:154.696</span><span style="left:301px;color:#1a1a9a;letter-spacing:.25px">MA0:150.496</span><span style="left:384.5px;color:#ff20ff;letter-spacing:.25px">MA0:150.496</span><span style="left:467.5px;color:#ff8a1a;letter-spacing:.25px">MA0:150.496</span></div>
<div id="ml"><span style="left:0">MACD(13,8,9)</span><span style="left:83px">DIFF:-0.616</span><span style="left:155px;color:#1a1a9a">DEA:-0.522</span><span style="left:226px;color:#ff20ff">MACD:-0.188</span></div>
<svg style="position:absolute;left:15.2px;top:704.4px" width="15" height="15" viewBox="0 0 15 15"><circle cx="7.5" cy="7.5" r="2" fill="#ff1010"/><circle cx="7.5" cy="7.5" r="3.6" fill="none" stroke="#000" stroke-width="1"/><path d="M7.5 0.6V2.4M7.5 12.6V14.4M0.6 7.5H2.4M12.6 7.5H14.4M2.2 2.2L3.6 3.6M11.4 11.4L12.8 12.8M2.2 12.8L3.6 11.4M11.4 3.6L12.8 2.2" stroke="#ff1010" stroke-width="1.1"/></svg>
<div id="wm">FX678</div>
<div id="pd"><span style="left:13px;top:1.3px">日线</span><span style="left:40.5px;font-size:14px;top:-1.5px">▲</span></div>
</body></html>
